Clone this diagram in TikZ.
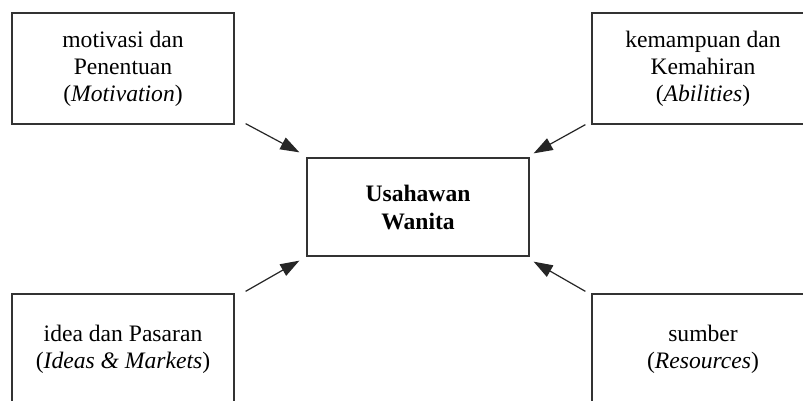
\documentclass[tikz,border=0pt]{standalone}
\usepackage{fontspec}
\setmainfont{Liberation Serif}
\usetikzlibrary{arrows.meta}
\begin{document}
\begin{tikzpicture}[x=1pt,y=1pt,
  box/.style={draw=black!80, line width=1.3pt, minimum width=222pt, minimum height=111pt,
    inner sep=0pt, align=center, font=\fontsize{23.6}{27}\selectfont},
  cbox/.style={box, minimum height=98pt, font=\fontsize{23.6}{28}\selectfont\bfseries},
  arr/.style={draw=black!85, line width=1.2pt, -{Triangle[length=19pt,width=13pt]}}]
\useasboundingbox (0,0) rectangle (803,400);
\clip (0,0) rectangle (803,400);
\fill[white] (0,0) rectangle (803,400);
\node[box] (tl) at (123,331.5) {motivasi dan\\Penentuan\\(\textit{Motivation})};
\node[box] (tr) at (703,331.5) {kemampuan dan\\Kemahiran\\(\textit{Abilities})};
\node[box] (bl) at (123,50.5) {idea dan Pasaran\\(\textit{Ideas \& Markets})};
\node[box] (br) at (703,50.5) {sumber\\(\textit{Resources})};
\node[cbox] (c) at (418,193) {Usahawan\\Wanita};
\draw[arr] ([shift={(11,1)}]tl.south east) -- ([shift={(-7,5)}]c.north west);
\draw[arr] ([shift={(-6,0)}]tr.south west) -- ([shift={(4,4)}]c.north east);
\draw[arr] ([shift={(11,2)}]bl.north east) -- ([shift={(-7,-4)}]c.south west);
\draw[arr] ([shift={(-6,2)}]br.north west) -- ([shift={(4,-5)}]c.south east);
\end{tikzpicture}
\end{document}
